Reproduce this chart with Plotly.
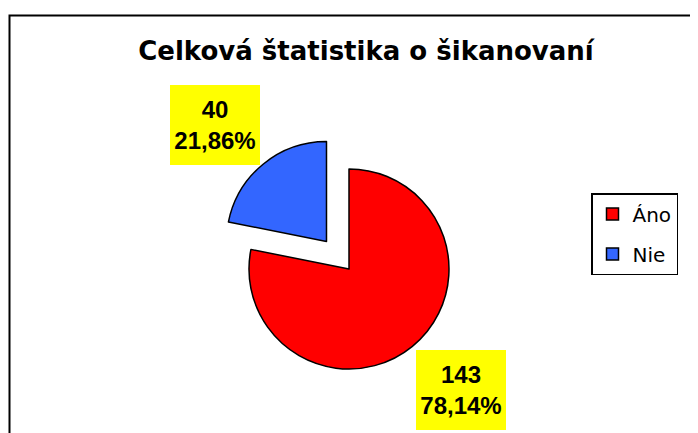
import plotly.graph_objects as go

# Data
categories = ["Áno", "Nie"]
values = [143, 40]
colors = ["#FF0000", "#3366FF"]
pulls = [0.0, 0.355]
title_text = "Celková štatistika o šikanovaní"

total = sum(values)
label_texts = [f"{v}<br>{(100 * v / total):.2f}%".replace(".", ",") for v in values]

# page body has an 8px margin; figure fills the rest of the 698x433 window
OFF = 8
W, H = 698 - OFF, 433 - OFF


def px(x):
    return (x - OFF) / W


def py(y):
    return 1 - (y - OFF) / H


fig = go.Figure()
fig.add_trace(go.Pie(
    labels=categories,
    values=values,
    marker=dict(colors=colors, line=dict(color="black", width=1.5)),
    pull=pulls,
    sort=False,
    direction="clockwise",
    rotation=0,
    textinfo="none",
    hoverinfo="label+value+percent",
    showlegend=False,
    domain=dict(x=[px(213.5), px(484.5)], y=[py(404.5), py(133.5)]),
))

# legend entries
for i, (cat, col) in enumerate(zip(categories, colors)):
    fig.add_trace(go.Scatter(
        x=[None], y=[None], mode="markers", name=cat,
        legendgroup=f"g{i}",
        marker=dict(symbol="square", size=12, color=col, line=dict(color="black", width=1.5)),
        showlegend=True,
    ))

# data labels in yellow boxes
label_pos = [(461, 390), (215, 125)]
for txt, (lx, ly) in zip(label_texts, label_pos):
    fig.add_annotation(
        x=px(lx), y=py(ly), xref="paper", yref="paper",
        xanchor="center", yanchor="middle",
        text=f"<b>{txt}</b>", showarrow=False,
        font=dict(family="Liberation Sans, Arial", size=24, color="black"),
        bgcolor="#FFFF00", width=90, height=80, borderpad=0, borderwidth=0,
        align="center", valign="middle",
    )

# chart area border (left/top visible)
fig.add_shape(type="rect", xref="paper", yref="paper",
              x0=px(9.5), x1=1.05, y0=-0.05, y1=py(15.5),
              line=dict(color="black", width=2), fillcolor="rgba(0,0,0,0)", layer="below")

fig.update_layout(
    width=W, height=H,
    margin=dict(l=0, r=0, t=0, b=0),
    paper_bgcolor="white", plot_bgcolor="white",
    title=dict(text=f"<b>{title_text}</b>", x=px(366), xanchor="center",
               y=1 - (51 - OFF) / H, yanchor="middle",
               font=dict(family="DejaVu Sans", size=26, color="black")),
    xaxis=dict(visible=False, range=[0, 1]),
    yaxis=dict(visible=False, range=[0, 1]),
    showlegend=True,
    legend=dict(x=px(591), y=py(193), xanchor="left", yanchor="top",
                bordercolor="black", borderwidth=1.5, bgcolor="white",
                font=dict(family="DejaVu Sans", size=20, color="black"),
                traceorder="grouped", tracegroupgap=11),
)

fig.write_html("out.html")
